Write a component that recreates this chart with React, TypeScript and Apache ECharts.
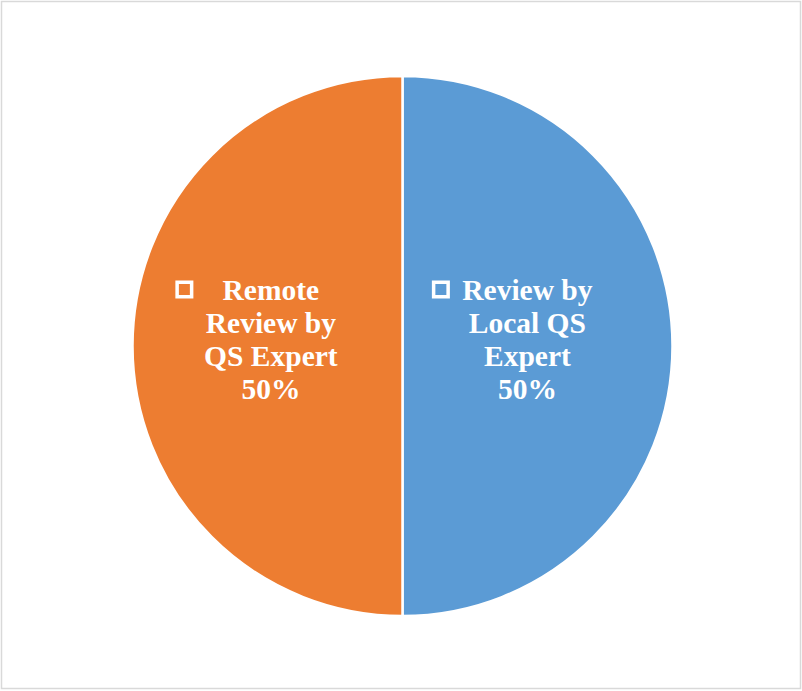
import React, { useEffect, useRef } from "react";
import * as echarts from "echarts";

const categories = ["Review by Local QS Expert", "Remote Review by QS Expert"];
const values = [50, 50];
const labelLines = [
  ["Review by", "Local QS", "Expert"],
  ["Remote", "Review by", "QS Expert"],
];
const colors = ["#5B9BD5", "#ED7D31"];

export default function App() {
  const ref = useRef<HTMLDivElement>(null);
  useEffect(() => {
    document.body.style.margin = "0";
    const chart = echarts.init(ref.current!, null, { renderer: "svg" });
    const total = values.reduce((a, b) => a + b, 0);
    const offsets = [
      [-22.5, -7],
      [-3, -7],
    ];
    const data = categories.map((name, i) => {
      const pct = Math.round((values[i] / total) * 100) + "%";
      const lines = [...labelLines[i], pct];
      const fmt = lines
        .map((l, k) => (k === 0 ? `{m|}{g|}{t|${l}}` : `{s|}{t|${l}}`))
        .join("\n");
      return {
        name,
        value: values[i],
        itemStyle: { color: colors[i] },
        label: { formatter: fmt, offset: offsets[i] },
      };
    });
    chart.setOption({
      animation: false,
      graphic: [
        {
          type: "rect",
          shape: { x: 1.5, y: 1.5, width: 799, height: 687 },
          style: { fill: "none", stroke: "#d9d9d9", lineWidth: 1.5 },
          silent: true,
        },
      ],
      series: [
        {
          type: "pie",
          center: [402.5, 346],
          radius: 270,
          startAngle: 90,
          clockwise: true,
          itemStyle: { borderColor: "#ffffff", borderWidth: 2.5 },
          emphasis: { disabled: true },
          labelLine: { show: false },
          label: {
            show: true,
            position: "inside",
            color: "#ffffff",
            rich: {
              m: {
                width: 14.5,
                height: 14.5,
                borderColor: "#ffffff",
                borderWidth: 3.5,
                lineHeight: 33,
              },
              g: { width: 4.25, lineHeight: 33 },
              s: { width: 18.75, lineHeight: 33 },
              t: {
                width: 150,
                align: "center",
                color: "#ffffff",
                fontFamily: "'Liberation Serif', 'Times New Roman', serif",
                fontWeight: "bold",
                fontSize: 29.5,
                lineHeight: 33,
              },
            },
          },
          data,
        },
      ],
    });
    return () => chart.dispose();
  }, []);
  return (
    <div
      ref={ref}
      style={{ position: "absolute", left: 0, top: 0, width: 802, height: 691, background: "#ffffff" }}
    />
  );
}
